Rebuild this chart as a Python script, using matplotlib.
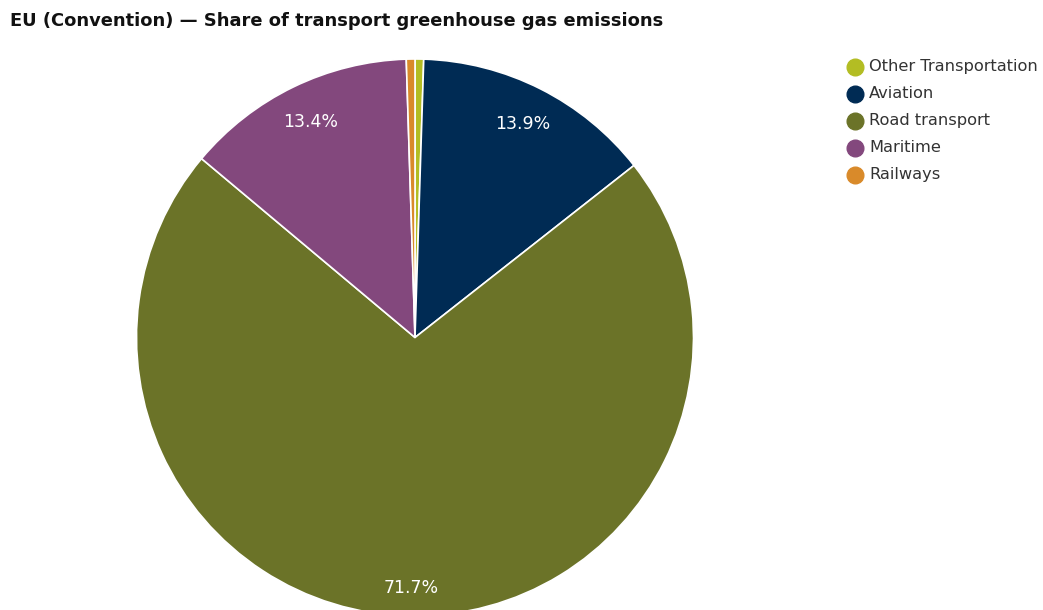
import numpy as np
import matplotlib.pyplot as plt
from matplotlib.lines import Line2D

categories = ['Other Transportation', 'Aviation', 'Road transport', 'Maritime', 'Railways']
shares = [0.5, 13.9, 71.7, 13.4, 0.5]
colors = ['#b3bd23', '#002b54', '#6b7328', '#83487d', '#d98a2a']

W, H = 1043, 610
fig = plt.figure(figsize=(W / 100, H / 100), dpi=100)

# pie centre (415, 337) and radius ~278 px
cx, cy, r = 415, 337.5, 278.5
ax = fig.add_axes([(cx - r) / W, (H - cy - r) / H, 2 * r / W, 2 * r / H])
wedges, texts = ax.pie(shares, colors=colors, startangle=90, counterclock=False,
                       radius=1, wedgeprops=dict(edgecolor='white', linewidth=1.2))
ax.set_xlim(-1, 1)
ax.set_ylim(-1, 1)
ax.set_aspect('equal')
ax.axis('off')

# value labels inside the big slices
label_r = [0, 0.86, 0.9, 0.86, 0]
for w, v, lr in zip(wedges, shares, label_r):
    if v < 5:
        continue
    mid = np.deg2rad((w.theta1 + w.theta2) / 2)
    ax.text(lr * np.cos(mid), lr * np.sin(mid), f'{v:.1f}%', color='white',
            ha='center', va='center', fontsize=12.5)

fig.text(10 / W, 1 - 21 / H, 'EU (Convention) \u2014 Share of transport greenhouse gas emissions',
         fontsize=12.9, fontweight='bold', color='#111111', ha='left', va='center')

# legend drawn row by row
for i, (lab, c) in enumerate(zip(categories, colors)):
    y = 1 - (67 + 27 * i) / H
    fig.add_artist(Line2D([855 / W], [y], marker='o', markersize=12, linestyle='none',
                          markerfacecolor=c, markeredgecolor=c, transform=fig.transFigure))
    fig.text(869 / W, y, lab, fontsize=11.7, color='#333333', ha='left', va='center')

fig.savefig('out.png', dpi=100)
